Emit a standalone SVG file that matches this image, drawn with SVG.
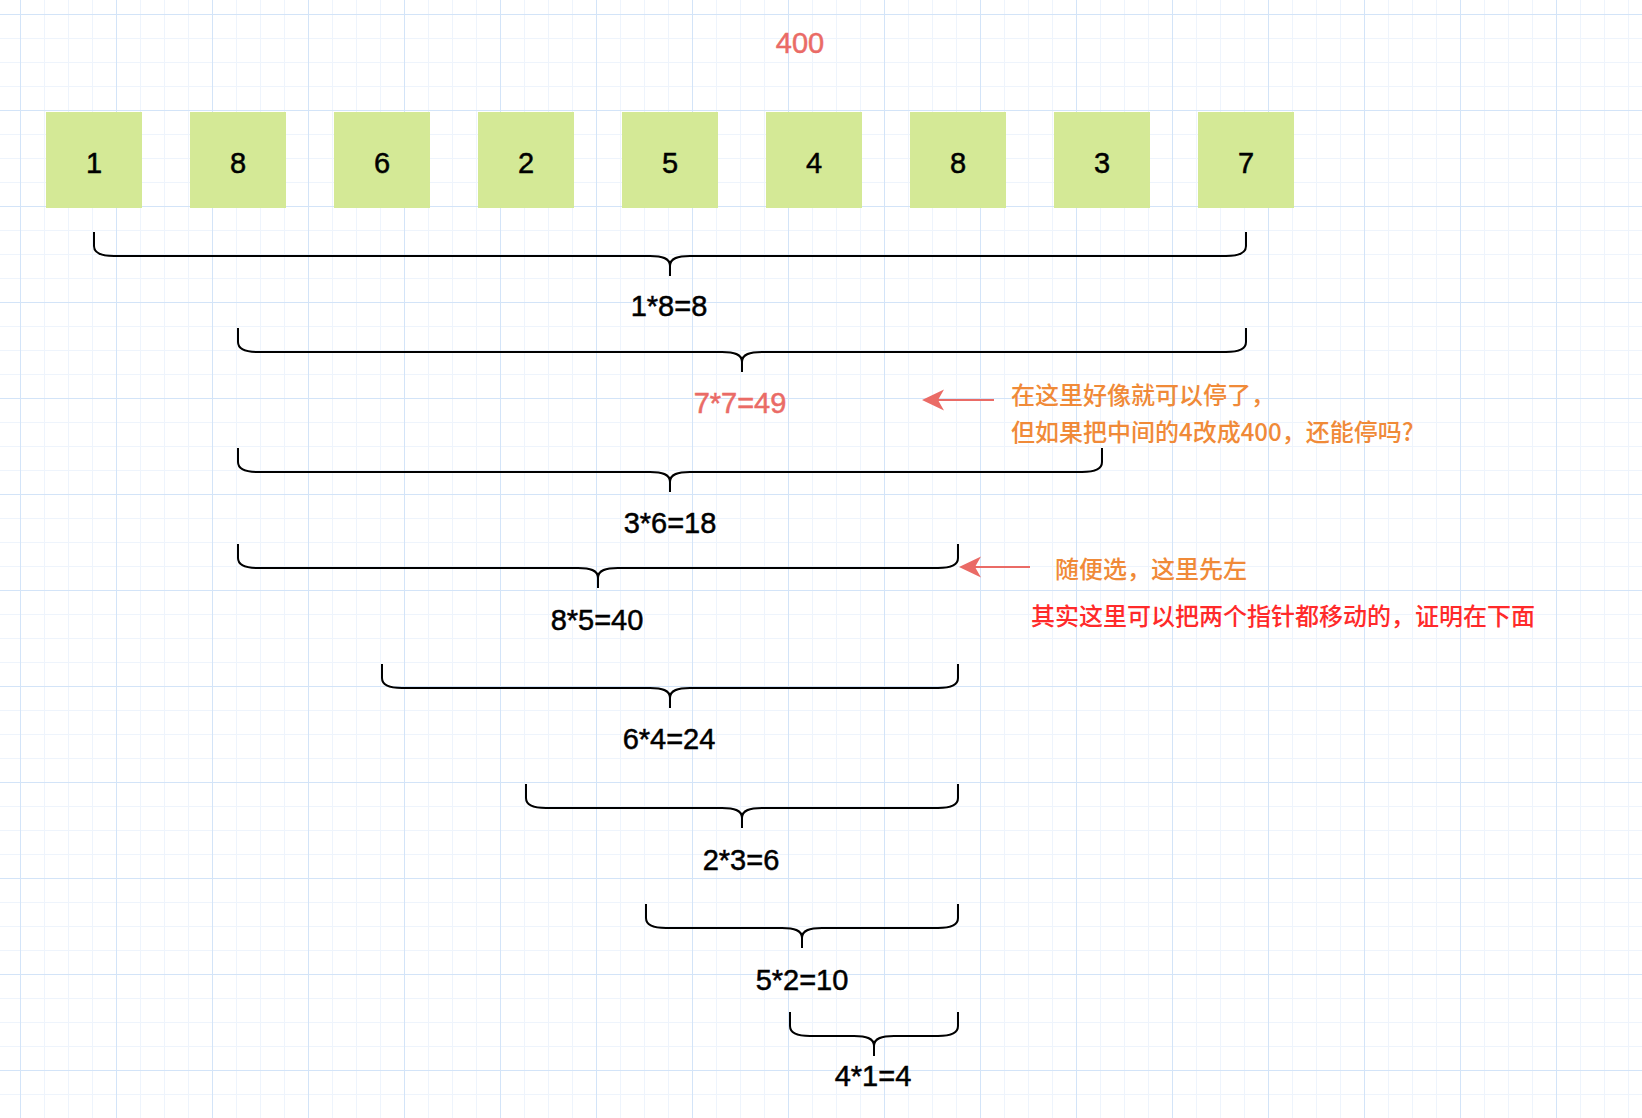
<svg xmlns="http://www.w3.org/2000/svg" width="1642" height="1118" viewBox="0 0 1642 1118">
<defs>
<pattern id="grid" patternUnits="userSpaceOnUse" x="20" y="14" width="96" height="96">
<rect x="0" y="0" width="96" height="96" fill="#ffffff"/>
<rect x="24" y="0" width="1" height="96" fill="#eef4fc"/>
<rect x="48" y="0" width="1" height="96" fill="#eef4fc"/>
<rect x="72" y="0" width="1" height="96" fill="#eef4fc"/>
<rect x="0" y="24" width="96" height="1" fill="#eef4fc"/>
<rect x="0" y="48" width="96" height="1" fill="#eef4fc"/>
<rect x="0" y="72" width="96" height="1" fill="#eef4fc"/>
<rect x="0" y="0" width="1" height="96" fill="#d3e4f8"/>
<rect x="0" y="0" width="96" height="1" fill="#d3e4f8"/>
</pattern>
</defs>
<style>
.box{fill:#d4e996;}
.num{font-family:"Liberation Sans",Arial,sans-serif;font-size:29px;fill:#000000;stroke:#000000;stroke-width:0.5;text-anchor:middle;}
.coral{fill:#ea6b66;stroke:#ea6b66;}
.brace{fill:none;stroke:#000000;stroke-width:2;stroke-linecap:butt;}
.arrow{stroke:#ea6b66;stroke-width:2;fill:none;}
.head{fill:#ea6b66;stroke:none;}
.note{font-family:"Noto Sans CJK SC","Liberation Sans",sans-serif;font-size:24px;font-weight:500;}
.orange{fill:#f08a38;}
.red{fill:#ff2a2a;}
</style>
<rect x="0" y="0" width="1642" height="1118" fill="url(#grid)"/>

<g id="title400"><text class="num coral" x="800" y="53">400</text></g>

<g id="box1"><rect class="box" x="46" y="112" width="96" height="96"/><text class="num" x="94" y="173">1</text></g>
<g id="box2"><rect class="box" x="190" y="112" width="96" height="96"/><text class="num" x="238" y="173">8</text></g>
<g id="box3"><rect class="box" x="334" y="112" width="96" height="96"/><text class="num" x="382" y="173">6</text></g>
<g id="box4"><rect class="box" x="478" y="112" width="96" height="96"/><text class="num" x="526" y="173">2</text></g>
<g id="box5"><rect class="box" x="622" y="112" width="96" height="96"/><text class="num" x="670" y="173">5</text></g>
<g id="box6"><rect class="box" x="766" y="112" width="96" height="96"/><text class="num" x="814" y="173">4</text></g>
<g id="box7"><rect class="box" x="910" y="112" width="96" height="96"/><text class="num" x="958" y="173">8</text></g>
<g id="box8"><rect class="box" x="1054" y="112" width="96" height="96"/><text class="num" x="1102" y="173">3</text></g>
<g id="box9"><rect class="box" x="1198" y="112" width="96" height="96"/><text class="num" x="1246" y="173">7</text></g>

<g id="brace1"><path class="brace" d="M94,232 V246 C94,253 101,256 114,256 H650 C662,256 670,258 670,266 V276 M670,266 C670,258 678,256 690,256 H1226 C1239,256 1246,253 1246,246 V232"/><text class="num" x="669" y="316">1*8=8</text></g>
<g id="brace2"><path class="brace" d="M238,328 V342 C238,349 245,352 258,352 H722 C734,352 742,354 742,362 V372 M742,362 C742,354 750,352 762,352 H1226 C1239,352 1246,349 1246,342 V328"/><text class="num coral" x="740" y="413">7*7=49</text></g>
<g id="brace3"><path class="brace" d="M238,448 V462 C238,469 245,472 258,472 H650 C662,472 670,474 670,482 V492 M670,482 C670,474 678,472 690,472 H1082 C1095,472 1102,469 1102,462 V448"/><text class="num" x="670" y="533">3*6=18</text></g>
<g id="brace4"><path class="brace" d="M238,544 V558 C238,565 245,568 258,568 H578 C590,568 598,570 598,578 V588 M598,578 C598,570 606,568 618,568 H938 C951,568 958,565 958,558 V544"/><text class="num" x="597" y="630">8*5=40</text></g>
<g id="brace5"><path class="brace" d="M382,664 V678 C382,685 389,688 402,688 H650 C662,688 670,690 670,698 V708 M670,698 C670,690 678,688 690,688 H938 C951,688 958,685 958,678 V664"/><text class="num" x="669" y="749">6*4=24</text></g>
<g id="brace6"><path class="brace" d="M526,784 V798 C526,805 533,808 546,808 H722 C734,808 742,810 742,818 V828 M742,818 C742,810 750,808 762,808 H938 C951,808 958,805 958,798 V784"/><text class="num" x="741" y="870">2*3=6</text></g>
<g id="brace7"><path class="brace" d="M646,904 V918 C646,925 653,928 666,928 H782 C794,928 802,930 802,938 V948 M802,938 C802,930 810,928 822,928 H938 C951,928 958,925 958,918 V904"/><text class="num" x="802" y="990">5*2=10</text></g>
<g id="brace8"><path class="brace" d="M790,1012 V1026 C790,1033 797,1036 810,1036 H854 C866,1036 874,1038 874,1046 V1056 M874,1046 C874,1038 882,1036 894,1036 H938 C951,1036 958,1033 958,1026 V1012"/><text class="num" x="873" y="1086">4*1=4</text></g>

<g id="connectors">
<line class="arrow" x1="994" y1="400" x2="938" y2="400"/>
<path class="head" d="M922,400 L944,389.5 L938,400 L944,410.5 Z"/>
<line class="arrow" x1="1030" y1="567" x2="975" y2="567"/>
<path class="head" d="M959,567 L981,556.5 L975,567 L981,577.5 Z"/>
</g>

<g id="note1">
<text class="note orange" x="1011" y="404">在这里好像就可以停了，</text>
<text class="note orange" x="1011" y="441">但如果把中间的4改成400，还能停吗?</text>
</g>
<g id="note2"><text class="note orange" x="1055" y="578">随便选，这里先左</text></g>
<g id="note3"><text class="note red" x="1031" y="625">其实这里可以把两个指针都移动的，证明在下面</text></g>
</svg>
